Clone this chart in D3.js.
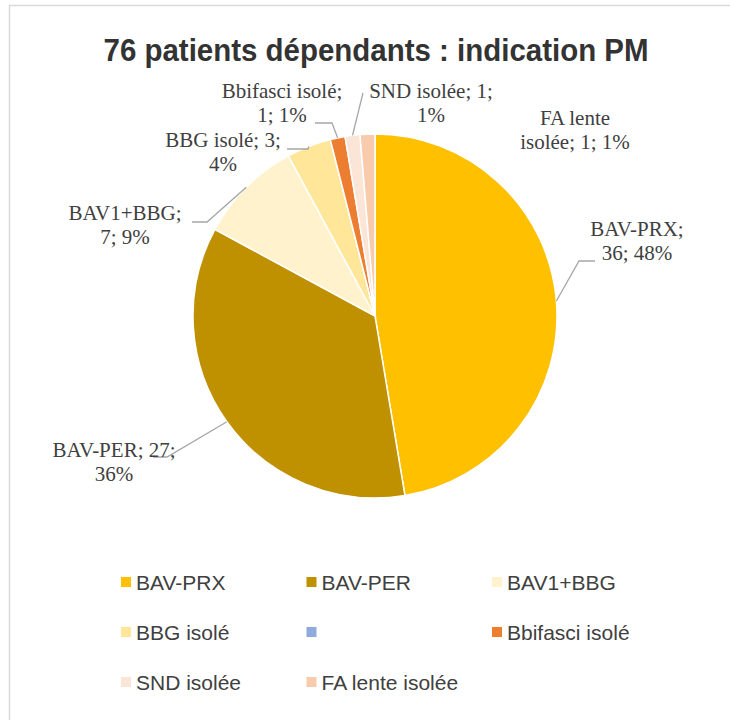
<!DOCTYPE html>
<html>
<head>
<meta charset="utf-8">
<script src="https://cdn.jsdelivr.net/npm/d3@7"></script>
<style>
  body { margin: 0; background: #fff; }
  svg { display: block; }
</style>
</head>
<body>
<svg id="chart" width="730" height="720"></svg>
<script>
// data
var categories = ["BAV-PRX", "BAV-PER", "BAV1+BBG", "BBG isolé", "", "Bbifasci isolé", "SND isolée", "FA lente isolée"]
var values = [36, 27, 7, 3, 0, 1, 1, 1]
var percents = [48, 36, 9, 4, 0, 1, 1, 1] // as printed on the labels
var colors = ["#ffc000", "#bf9000", "#fff2cc", "#ffe699", "#8faadc", "#ed7d31", "#fbe5d6", "#f8cbad"]

// label layout: words on first line, text centre, first baseline, leader elbow/end
var labelLayout = [
  { words: 1, x: 637, y: 236, leader: [[579, 261], [595, 261]] },
  { words: 2, x: 114, y: 457, leader: [[167, 457], [153, 457]] },
  { words: 1, x: 125, y: 220, leader: [[207, 222], [192, 222]] },
  { words: 3, x: 223, y: 147, leader: [[308, 149], [287, 149]] },
  null,
  { words: 2, x: 282, y: 98, leader: [[332, 123], [315, 123]] },
  { words: 3, x: 431, y: 98, leader: [[363, 93]] },
  { words: 2, x: 575, y: 125, leader: null }
]

var svg = d3.select("#chart")
var cx = 375, cy = 316, radius = 182

// chart frame
svg.append("rect")
  .attr("x", 9.5).attr("y", 5.5)
  .attr("width", 760).attr("height", 760)
  .attr("fill", "#fff")
  .attr("stroke", "#d9d9d9")
  .attr("stroke-width", 1.5)

svg.append("text")
  .attr("x", 376).attr("y", 61)
  .attr("text-anchor", "middle")
  .attr("textLength", 545)
  .attr("lengthAdjust", "spacingAndGlyphs")
  .style("font-family", "'Liberation Sans', Arial, sans-serif")
  .style("font-weight", "bold")
  .style("font-size", "31px")
  .attr("fill", "#333")
  .text("76 patients dépendants : indication PM")

var rows = categories.map(function(c, i) {
  return { name: c, value: values[i], pct: percents[i], color: colors[i], layout: labelLayout[i] }
})

var pie = d3.pie().sort(null).value(function(d) { return d.value })
var arc = d3.arc().innerRadius(0).outerRadius(radius)
var arcs = pie(rows)

var g = svg.append("g").attr("transform", "translate(" + cx + "," + cy + ")")

g.selectAll("path.slice")
  .data(arcs)
  .enter().append("path")
  .attr("class", "slice")
  .attr("d", arc)
  .attr("fill", function(d) { return d.data.color })
  .attr("stroke", "#fff")
  .attr("stroke-width", 1.5)

// leader lines start on the rim at the middle of each slice
var line = d3.line()
arcs.forEach(function(a) {
  var lay = a.data.layout
  if (!lay || !lay.leader) return
  var mid = (a.startAngle + a.endAngle) / 2
  var p0 = [cx + radius * Math.sin(mid), cy - radius * Math.cos(mid)]
  svg.append("path")
    .attr("d", line([p0].concat(lay.leader)))
    .attr("fill", "none")
    .attr("stroke", "#a6a6a6")
    .attr("stroke-width", 1.3)
})

// data labels "name; value; pct%"
arcs.forEach(function(a) {
  var lay = a.data.layout
  if (!lay) return
  var words = (a.data.name + "; " + a.data.value + "; " + a.data.pct + "%").split(" ")
  var lines = [words.slice(0, lay.words).join(" "), words.slice(lay.words).join(" ")]
  var t = svg.append("text")
    .attr("text-anchor", "middle")
    .style("font-family", "'Liberation Serif', 'Times New Roman', serif")
    .style("font-size", "21px")
    .attr("fill", "#404040")
  lines.forEach(function(s, k) {
    t.append("tspan").attr("x", lay.x).attr("y", lay.y + k * 23.5).text(s)
  })
})

// legend, 3 columns
var legend = svg.append("g")
  .style("font-family", "'Liberation Sans', Arial, sans-serif")
  .style("font-size", "21px")
var item = legend.selectAll("g")
  .data(rows)
  .enter().append("g")
  .attr("transform", function(d, i) {
    return "translate(" + (121 + (i % 3) * 185.5) + "," + (582 + Math.floor(i / 3) * 50) + ")"
  })
item.append("rect")
  .attr("x", 0).attr("y", -5)
  .attr("width", 10).attr("height", 10)
  .attr("fill", function(d) { return d.color })
item.append("text")
  .attr("x", 15).attr("y", 7.5)
  .attr("fill", "#404040")
  .text(function(d) { return d.name })
</script>
</body>
</html>
